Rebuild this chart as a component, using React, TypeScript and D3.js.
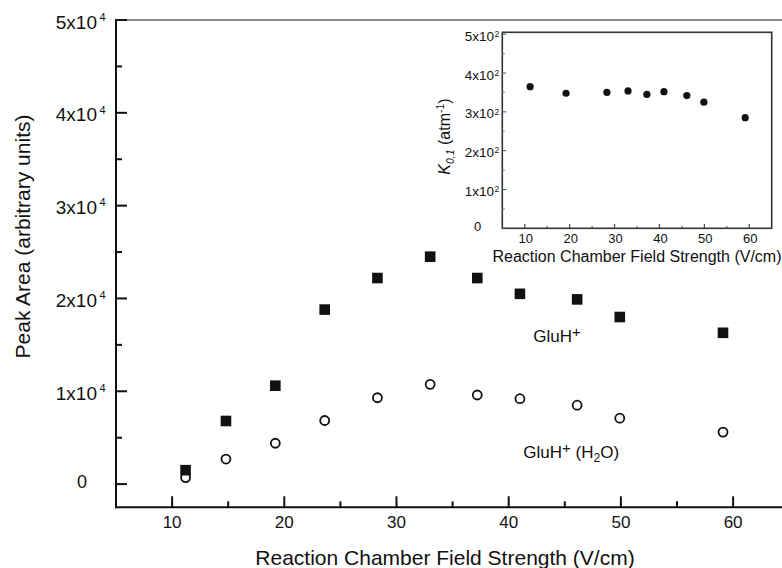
import React from "react";
import * as d3 from "d3";

// ---- Data ----
const fieldStrength = [11.2, 14.8, 19.2, 23.6, 28.3, 33.0, 37.2, 41.0, 46.1, 49.9, 59.1];
const gluH = [1500, 6800, 10600, 18800, 22200, 24500, 22200, 20500, 19900, 18000, 16300];
const gluHWater = [700, 2700, 4400, 6850, 9300, 10750, 9600, 9200, 8500, 7100, 5600];

const insetField = [11.2, 19.2, 28.3, 33.0, 37.2, 41.0, 46.1, 49.9, 59.1];
const insetK = [365, 348, 350, 354, 345, 352, 342, 325, 285];

const xTicks = [10, 20, 30, 40, 50, 60];
const xMinor = [15, 25, 35, 45, 55];
const yTicks = [0, 10000, 20000, 30000, 40000, 50000];
const yMinor = [5000, 15000, 25000, 35000, 45000];
const yTickMantissa = ["0", "1", "2", "3", "4", "5"];
const yTickExp = "4";

const insetYTicks = [0, 100, 200, 300, 400, 500];
const insetYMinor = [50, 150, 250, 350, 450];
const insetYMantissa = ["0", "1", "2", "3", "4", "5"];
const insetYExp = "2";

const FONT = "'Liberation Sans', Arial, Helvetica, sans-serif";

export default function App() {
  // main scales
  const x = d3.scaleLinear().domain([5, 65]).range([116, 789.2]);
  const y = d3.scaleLinear().domain([-2500, 50000]).range([507.3, 20]);
  // inset scales
  const ix = d3.scaleLinear().domain([5, 65]).range([502.3, 771.7]);
  const iy = d3.scaleLinear().domain([0, 505]).range([228.3, 32.3]);

  const ink = "#111";

  return (
    <svg
      width={782}
      height={568}
      style={{ position: "absolute", left: 0, top: 0, background: "#fff" }}
      fontFamily={FONT}
    >
      <rect x={0} y={0} width={782} height={568} fill="#fff" />

      {/* main frame */}
      <line x1={x(5)} x2={782} y1={y(50000)} y2={y(50000)} stroke="#8a8a8a" strokeWidth={2} />
      <line x1={x(5)} x2={x(5)} y1={y(50000) - 1} y2={y(-2500) + 1} stroke={ink} strokeWidth={2} />
      <line x1={x(5) - 1} x2={782} y1={y(-2500)} y2={y(-2500)} stroke={ink} strokeWidth={2} />

      {/* main y ticks */}
      {yTicks.map((t) => (
        <line key={"yt" + t} x1={x(5)} x2={x(5) + 11} y1={y(t)} y2={y(t)} stroke={ink} strokeWidth={2} />
      ))}
      {yMinor.map((t) => (
        <line key={"ym" + t} x1={x(5)} x2={x(5) + 6} y1={y(t)} y2={y(t)} stroke={ink} strokeWidth={2} />
      ))}
      {yTicks.map((t, i) =>
        t === 0 ? (
          <text key={"yl" + t} x={82} y={y(t) + 3.5} fontSize={18} textAnchor="middle" fill={ink}>
            {yTickMantissa[i]}
          </text>
        ) : (
          <g key={"yl" + t}>
            <text x={97} y={y(t) + 8.5} fontSize={19} textAnchor="end" fill={ink}>
              {yTickMantissa[i] + "x10"}
            </text>
            <text x={99.5} y={y(t) + 0.8} fontSize={11} textAnchor="start" fill={ink}>
              {yTickExp}
            </text>
          </g>
        )
      )}

      {/* main x ticks */}
      {xTicks.map((t) => (
        <line key={"xt" + t} x1={x(t)} x2={x(t)} y1={y(-2500)} y2={y(-2500) - 11} stroke={ink} strokeWidth={2} />
      ))}
      {xMinor.map((t) => (
        <line key={"xm" + t} x1={x(t)} x2={x(t)} y1={y(-2500)} y2={y(-2500) - 6} stroke={ink} strokeWidth={2} />
      ))}
      {xTicks.map((t) => (
        <text key={"xl" + t} x={x(t)} y={527.5} fontSize={17} textAnchor="middle" fill={ink}>
          {t}
        </text>
      ))}

      {/* axis titles */}
      <text x={445} y={565} fontSize={21} textAnchor="middle" fill={ink}>
        Reaction Chamber Field Strength (V/cm)
      </text>
      <text
        transform={`translate(30,236.5) rotate(-90)`}
        fontSize={21}
        textAnchor="middle"
        fill={ink}
      >
        Peak Area (arbitrary units)
      </text>

      {/* GluH+ squares */}
      {fieldStrength.map((f, i) => (
        <rect key={"sq" + i} x={x(f) - 5.3} y={y(gluH[i]) - 5.3} width={10.6} height={10.6} fill={ink} />
      ))}
      {/* GluH+(H2O) circles */}
      {fieldStrength.map((f, i) => (
        <circle key={"ci" + i} cx={x(f)} cy={y(gluHWater[i])} r={4.5} fill="none" stroke={ink} strokeWidth={1.8} />
      ))}

      {/* series labels */}
      <text x={533.3} y={341.7} fontSize={17} fill={ink}>
        GluH<tspan fontSize={15} dy={-5}>+</tspan>
      </text>
      <text x={523.3} y={458.3} fontSize={17} fill={ink}>
        GluH<tspan fontSize={15} dy={-5}>+</tspan>
        <tspan dy={5}> (H</tspan>
        <tspan fontSize={12} dy={4}>2</tspan>
        <tspan dy={-4}>O)</tspan>
      </text>

      {/* ---- inset ---- */}
      <rect
        x={ix(5)}
        y={iy(505)}
        width={ix(65) - ix(5)}
        height={iy(0) - iy(505)}
        fill="none"
        stroke="#333"
        strokeWidth={1.6}
      />
      {insetYTicks.map((t) => (
        <line key={"iyt" + t} x1={ix(5)} x2={ix(5) + 4} y1={iy(t)} y2={iy(t)} stroke="#555" strokeWidth={1} />
      ))}
      {insetYMinor.map((t) => (
        <line key={"iym" + t} x1={ix(5)} x2={ix(5) + 2.5} y1={iy(t)} y2={iy(t)} stroke="#777" strokeWidth={1} />
      ))}
      {insetYTicks.map((t, i) =>
        t === 0 ? (
          <text key={"iyl" + t} x={477.7} y={iy(t) + 2.5} fontSize={13} textAnchor="middle" fill={ink}>
            {insetYMantissa[i]}
          </text>
        ) : (
          <g key={"iyl" + t}>
            <text x={494} y={iy(t) + 6.5} fontSize={13.5} textAnchor="end" fill={ink}>
              {insetYMantissa[i] + "x10"}
            </text>
            <text x={494.5} y={iy(t) + 2.7} fontSize={8.5} textAnchor="start" fill={ink}>
              {insetYExp}
            </text>
          </g>
        )
      )}
      {xTicks.map((t) => (
        <line key={"ixt" + t} x1={ix(t)} x2={ix(t)} y1={iy(0)} y2={iy(0) - 4.3} stroke="#444" strokeWidth={1.2} />
      ))}
      {xMinor.map((t) => (
        <line key={"ixm" + t} x1={ix(t)} x2={ix(t)} y1={iy(0)} y2={iy(0) - 2.3} stroke="#555" strokeWidth={1.2} />
      ))}
      {xTicks.map((t) => (
        <text key={"ixl" + t} x={ix(t) + 1} y={243.3} fontSize={13} textAnchor="middle" fill={ink}>
          {t}
        </text>
      ))}
      <text x={637} y={261.5} fontSize={16} textAnchor="middle" fill={ink}>
        Reaction Chamber Field Strength (V/cm)
      </text>
      <text transform={`translate(450,136.5) rotate(-90)`} fontSize={16} textAnchor="middle" fill={ink}>
        <tspan fontStyle="italic">K</tspan>
        <tspan fontSize={10.5} fontStyle="italic" dy={4}>0,1</tspan>
        <tspan dy={-4}> (atm</tspan>
        <tspan fontSize={10.5} dy={-6}>-1</tspan>
        <tspan dy={6}>)</tspan>
      </text>
      {insetField.map((f, i) => (
        <circle key={"id" + i} cx={ix(f)} cy={iy(insetK[i])} r={3.6} fill={ink} />
      ))}
    </svg>
  );
}
